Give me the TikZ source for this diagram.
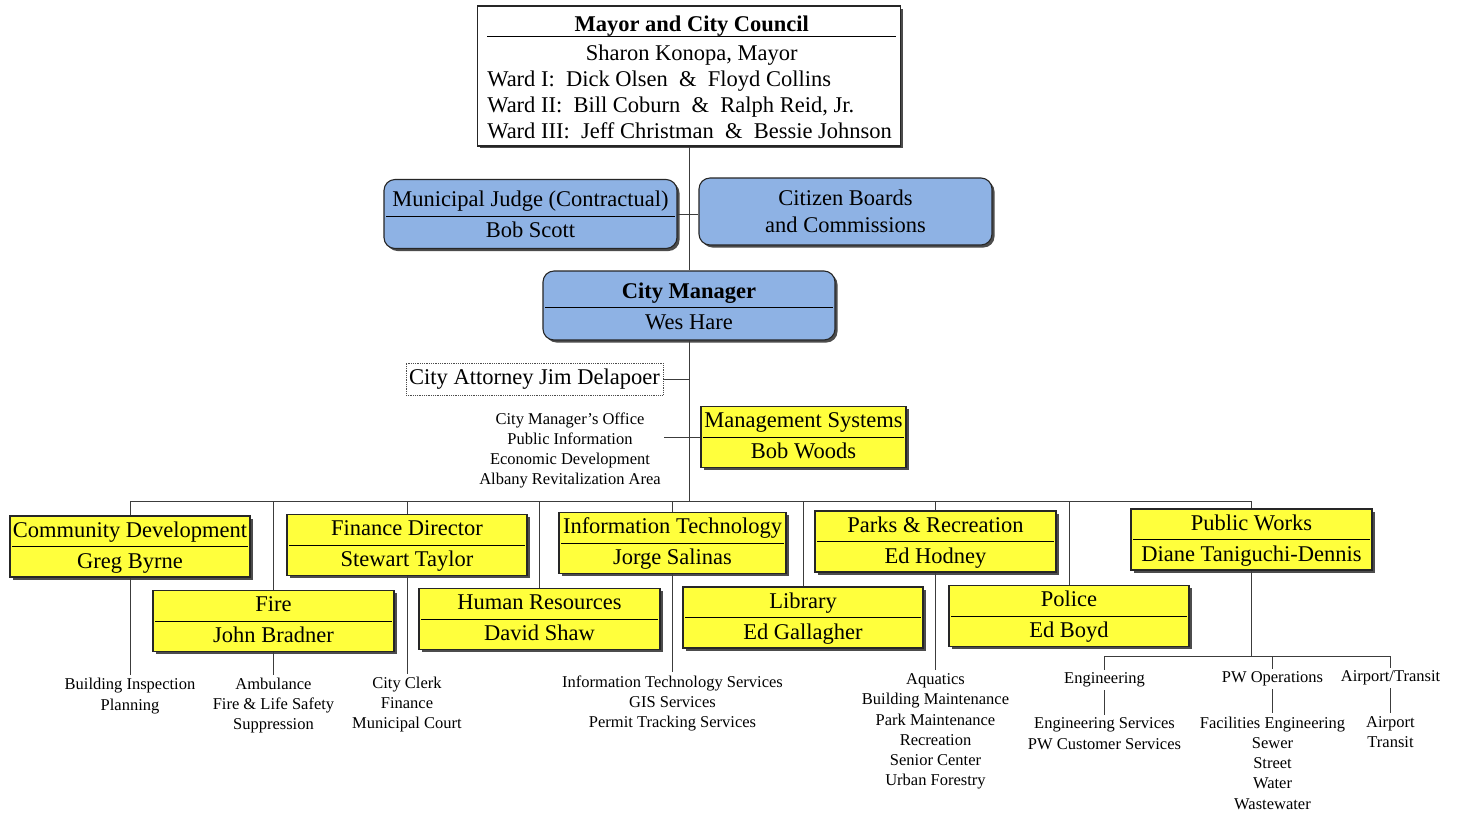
\documentclass[tikz,border=0pt]{standalone}
\usepackage{fontspec}
\setmainfont{Liberation Serif}
\usepackage{array}
\usetikzlibrary{shadows}

\definecolor{boardblue}{RGB}{142,178,228}
\definecolor{deptyellow}{RGB}{255,255,60}
\definecolor{linegray}{RGB}{60,60,60}

\newcommand{\boxfont}{\fontsize{22.5}{30}\selectfont}
\newcommand{\listfont}{\fontsize{16.5}{20.3}\selectfont}
\setlength{\arrayrulewidth}{1pt}
\newcommand{\twopart}[3]{\begin{tabular}{@{}>{\centering\arraybackslash}p{#1}@{}} #2 \\ \hline #3 \end{tabular}}

\tikzset{
	orgbox/.style={draw=black!85, line width=1.1pt, inner xsep=2pt, inner ysep=0pt, font=\boxfont,
		drop shadow={shadow xshift=2.5pt, shadow yshift=-2.5pt, fill=black!70, opacity=1}},
	deptbox/.style={orgbox, fill=deptyellow},
	boardbox/.style={orgbox, fill=boardblue, rounded corners=11pt, inner ysep=2pt},
	sublist/.style={font=\listfont, align=center, inner sep=3pt},
	link/.style={draw=linegray, line width=1pt}
}

\begin{document}
\begin{tikzpicture}[x=1pt, y=-1pt]
	\fill [white] (0,0) rectangle (1457,815);
	\useasboundingbox (0,0) rectangle (1457,815);

	% council and boards
	\node (mayor) [orgbox, line width=1.6pt, fill=white, inner xsep=4pt] at (689,76) {
		\def\arraystretch{0.1}
		\begin{tabular}{@{}>{\raggedright\arraybackslash}p{409pt}@{}}
			\multicolumn{1}{@{}c@{}}{\bfseries Mayor and City Council\rule[-3pt]{0pt}{28pt}} \\ \hline
			\multicolumn{1}{@{}c@{}}{Sharon Konopa, Mayor\rule[-7pt]{0pt}{31pt}} \\
			Ward I:\ \ Dick Olsen\ \ \&\ \ Floyd Collins\rule[-7pt]{0pt}{26pt} \\
			Ward II:\ \ Bill Coburn\ \ \&\ \ Ralph Reid, Jr.\rule[-7pt]{0pt}{26pt} \\
			Ward III:\ \ Jeff Christman\ \ \&\ \ Bessie Johnson\rule[-7pt]{0pt}{26pt}
		\end{tabular}
	};
	\node (judge) [boardbox] at (530.5,214) {\twopart{289pt}{\rule{0pt}{25pt}Municipal Judge (Contractual)}{Bob Scott}};
	\node (citizen) [boardbox, minimum width=293pt, minimum height=67pt, align=center,
		font=\fontsize{22.5}{27}\selectfont] at (845.5,211.5) {Citizen Boards\\and Commissions};
	\node (cm) [boardbox] at (689,305.5) {\twopart{288pt}{\rule{0pt}{25pt}\bfseries City Manager}{Wes Hare}};

	% staff of the city manager
	\node (atty) [draw=black!70, densely dotted, line width=0.8pt, font=\boxfont,
		minimum width=257pt, minimum height=32pt, inner sep=0pt] at (534.5,379) {City Attorney Jim Delapoer};
	\node (mgmt) [deptbox] at (803.5,437) {\twopart{201pt}{Management Systems}{Bob Woods}};
	\node (cmo) [sublist] at (570,450.5) {City Manager's Office\\Public Information\\Economic Development\\Albany Revitalization Area};

	% departments
	\node (comdev) [deptbox] at (130,546.5) {\twopart{236pt}{Community Development}{Greg Byrne}};
	\node (finance) [deptbox] at (407,545) {\twopart{236pt}{Finance Director}{Stewart Taylor}};
	\node (it) [deptbox] at (672.5,543) {\twopart{223pt}{Information Technology}{Jorge Salinas}};
	\node (parks) [deptbox] at (935.5,541.5) {\twopart{237pt}{Parks \& Recreation}{Ed Hodney}};
	\node (pw) [deptbox] at (1251.5,539.5) {\twopart{237pt}{Public Works}{Diane Taniguchi-Dennis}};
	\node (fire) [deptbox] at (273.5,621) {\twopart{237pt}{Fire}{John Bradner}};
	\node (hr) [deptbox] at (539.5,619) {\twopart{237pt}{Human Resources}{David Shaw}};
	\node (library) [deptbox] at (803,617.5) {\twopart{236pt}{Library}{Ed Gallagher}};
	\node (police) [deptbox] at (1069,616) {\twopart{236pt}{Police}{Ed Boyd}};

	% divisions
	\node (bldg) [sublist] at (130,696) {Building Inspection\\Planning};
	\node (amb) [sublist] at (273.5,705.5) {Ambulance\\Fire \& Life Safety\\Suppression};
	\node (clerk) [sublist] at (407,704.5) {City Clerk\\Finance\\Municipal Court};
	\node (itsvc) [sublist] at (672.5,703.5) {Information Technology Services\\GIS Services\\Permit Tracking Services};
	\node (aquatics) [sublist] at (935.5,731.5) {Aquatics\\Building Maintenance\\Park Maintenance\\Recreation\\Senior Center\\Urban Forestry};
	\node (eng) [sublist] at (1104.5,680) {Engineering};
	\node (pwops) [sublist] at (1272.5,679) {PW Operations};
	\node (airtr) [sublist] at (1390.5,678) {Airport/Transit};
	\node (engsvc) [sublist] at (1104.5,733.5) {Engineering Services\\PW Customer Services};
	\node (facil) [sublist] at (1272.5,763) {Facilities Engineering\\Sewer\\Street\\Water\\Wastewater};
	\node (airport) [sublist] at (1390.5,732) {Airport\\Transit};

	% lines
	\coordinate (bus) at (689,501);
	\coordinate (pwbus) at (1251.5,656);
	\draw [link] (mayor.south) -- (cm.north);
	\draw [link] (judge.east) -- (judge.east -| citizen.west);
	\draw [link] (cm.south) -- (bus);
	\draw [link] (atty.east) -- (atty.east -| bus);
	\draw [link] (mgmt.west) -- (mgmt.west -| cmo.east);
	\draw [link] (comdev.north |- bus) -- (pw.north |- bus);
	\foreach \dep in {comdev,fire,finance,hr,it,library,parks,police,pw}
		\draw [link] (\dep.north |- bus) -- (\dep.north);
	\foreach \dep/\div in {comdev/bldg,fire/amb,finance/clerk,it/itsvc,parks/aquatics}
		\draw [link] (\dep.south) -- (\div.north);
	\draw [link] (pw.south) -- (pwbus);
	\draw [link] (eng.north |- pwbus) -- (airtr.north |- pwbus);
	\foreach \sec/\div in {eng/engsvc,pwops/facil,airtr/airport} {
		\draw [link] (\sec.north |- pwbus) -- (\sec.north);
		\draw [link] (\sec.south) -- (\div.north);
	}
\end{tikzpicture}
\end{document}
